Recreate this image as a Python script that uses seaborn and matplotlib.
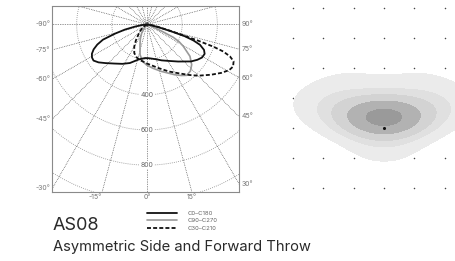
import numpy as np
import pandas as pd
import matplotlib
matplotlib.use("Agg")
import matplotlib.pyplot as plt
from matplotlib.lines import Line2D
from matplotlib.colors import ListedColormap
import seaborn as sns
from seaborn._statistics import KDE

sns.set_theme(style="white")
plt.rcParams['font.family'] = ['Inter', 'DejaVu Sans']

# ---------------- data: polar intensity curves (angle from nadir, cd) ----------------
c0_angles = [-90, -84, -80, -77, -74, -71, -68, -65, -62, -59, -56, -52, -47, -40, -32, -24, -14, -8, -3,
             3, 8, 15, 22, 30, 40, 50, 55, 59, 63, 66, 69, 71, 72.7, 74, 76, 80, 90]
c0_values = [0, 30, 70, 130, 190, 265, 305, 335, 355, 365, 367, 350, 322, 290, 264, 240, 206, 196, 191,
             192, 196, 205, 220, 239, 275, 327, 350, 365, 368, 355, 323, 280, 226, 150, 80, 30, 0]

c90_angles = [-90, -60, -45, -32, -25, -19, -13, -7, 0, 8, 17, 29, 34, 38, 43, 48, 53.5, 59, 62, 64,
              65.3, 66.5, 70, 90]
c90_values = [0, 5, 15, 57, 90, 122, 176, 211, 232, 252, 279, 327, 350, 367, 362, 342, 304, 241, 205,
              165, 100, 60, 20, 0]

c30_angles = [-90, -70, -55, -45, -35, -30, -24, -18, -11, -5, 0, 14.6, 25, 32.8, 40, 45, 52, 57, 61, 64,
              67, 69, 70.5, 71.5, 72.5, 73.5, 75, 78, 82, 90]
c30_values = [0, 5, 30, 60, 110, 145, 178, 195, 207, 213, 222, 256, 295, 330, 375, 412, 464, 505, 535,
              545, 535, 505, 460, 400, 300, 200, 130, 60, 25, 0]

series_names = ["C0\u2013C180", "C90\u2013C270", "C30\u2013C210"]

# polar grid
grid_radii = [200, 400, 600, 800, 1000, 1200]
grid_angle_step = 15
circle_labels = [400, 600, 800]
side_labels = [90, 75, 60, 45, 30]
bottom_labels = [-15, 0, 15]

# ---------------- data: isolux diagram ----------------
dot_cols = [-3, -2, -1, 0, 1, 2]
dot_rows = [4, 3, 2, 1, 0, -1, -2]
iso_x = [0.0, -1.4, 1.4, -2.05, 2.05, -1.1, 1.1, 0.0]
iso_y = [0.33, 0.5, 0.5, 0.95, 0.95, 1.5, 1.5, -0.75]
iso_w = [10, 1.5, 1.5, 0.8, 0.8, 0.8, 0.8, 1.0]
iso_peak_fracs = [0.075, 0.12, 0.2, 0.33, 0.55, 0.86]
iso_colors = ['#ebebeb', '#e0e0e0', '#d3d3d3', '#c4c4c4', '#b2b2b2', '#9a9a9a']

# ---------------- figure ----------------
W, H = 456, 261
fig = plt.figure(figsize=(W / 100, H / 100), dpi=100)
fig.patch.set_facecolor('white')

# left polar-style diagram in a square box
ax = fig.add_axes([52.5 / W, 1 - 191.5 / H, 186.5 / W, 185.5 / H])
ax.set_facecolor('none')
XMIN, XMAX, YTOP, YBOT = -537.5, 523.3, -105.2, 950.0
ax.set_xlim(XMIN, XMAX)
ax.set_ylim(YBOT, YTOP)
ax.set_xticks([])
ax.set_yticks([])
for s in ax.spines.values():
    s.set_visible(True)
    s.set_color('#8a8a8a')
    s.set_linewidth(0.8)
    s.set_linestyle((0, (1, 1)))

dot = (0, (1, 1.5))
t = np.radians(np.linspace(0, 360, 361))
for r in grid_radii:
    ax.plot(r * np.sin(t), r * np.cos(t), color='#8a8a8a', lw=0.6, ls=dot, zorder=1)
for a in range(0, 360, grid_angle_step):
    ar = np.radians(a)
    ax.plot([0, 2000 * np.sin(ar)], [0, 2000 * np.cos(ar)], color='#333333', lw=0.5, ls=dot, zorder=1)

for v in circle_labels:
    ax.text(0, v, str(v), ha='center', va='center', fontsize=5, color='#666666', zorder=3,
            bbox=dict(boxstyle='square,pad=0.15', fc='white', ec='none'))


def curve_frame(angles, values):
    a = np.radians(np.asarray(angles, dtype=float))
    v = np.asarray(values, dtype=float)
    return pd.DataFrame({'x': v * np.sin(a), 'y': v * np.cos(a)})


sns.lineplot(data=curve_frame(c90_angles, c90_values), x='x', y='y', sort=False, estimator=None,
             color='#9a9a9a', lw=1.2, ax=ax, zorder=4)
sns.lineplot(data=curve_frame(c30_angles, c30_values), x='x', y='y', sort=False, estimator=None,
             color='#111111', lw=1.3, linestyle=(0, (2.2, 1.2)), ax=ax, zorder=5)
sns.lineplot(data=curve_frame(c0_angles, c0_values), x='x', y='y', sort=False, estimator=None,
             color='#111111', lw=1.3, ax=ax, zorder=6)
ax.set_xlabel('')
ax.set_ylabel('')
ax.set_xlim(XMIN, XMAX)
ax.set_ylim(YBOT, YTOP)

lab_kw = dict(fontsize=5, color='#777777')
for a in side_labels:
    yl = -XMIN / np.tan(np.radians(a)) if a != 90 else 0.0
    yr = XMAX / np.tan(np.radians(a)) if a != 90 else 0.0
    ax.text(-0.012, yl, f"-{a}\u00b0", transform=ax.get_yaxis_transform(), ha='right', va='center', **lab_kw)
    ax.text(1.012, yr, f"{a}\u00b0", transform=ax.get_yaxis_transform(), ha='left', va='center', **lab_kw)
for a in bottom_labels:
    xb = YBOT * np.tan(np.radians(a))
    ax.text(xb, -0.015, f"{a}\u00b0", transform=ax.get_xaxis_transform(),
            ha='right' if a < 0 else 'center', va='top', **lab_kw)

# legend
handles = [Line2D([], [], color='#111111', lw=1.3),
           Line2D([], [], color='#9a9a9a', lw=1.2),
           Line2D([], [], color='#111111', lw=1.3, linestyle=(0, (2.2, 1.2)))]
fig.legend(handles, series_names, loc='upper left', bbox_to_anchor=(147 / W, 1 - 210.5 / H),
           frameon=False, fontsize=4.3, labelcolor='#666666', handlelength=5.0, handletextpad=1.85,
           labelspacing=0.42, borderpad=0, borderaxespad=0)

fig.text(53 / W, 1 - 230 / H, "AS08", fontsize=13, color='#2a2a2a', va='baseline')
fig.text(53 / W, 1 - 251.5 / H, "Asymmetric Side and Forward Throw", fontsize=10.6, color='#2a2a2a',
         va='baseline')

# right isolux diagram
ax2 = fig.add_axes([280 / W, 1 - 200 / H, 176 / W, 200 / H])
ax2.set_facecolor('none')
X2 = (-3.415, 2.365)
Y2 = (-2.41, 4.257)
gx, gy = np.meshgrid(dot_cols, dot_rows)
dots = pd.DataFrame({'x': gx.ravel(), 'y': gy.ravel()})
sns.scatterplot(data=dots, x='x', y='y', s=1.2, color='#444444', linewidth=0, ax=ax2, zorder=1)

# convert "fraction of peak" iso-levels into seaborn's iso-proportion levels
bw = 0.8
kde = KDE(bw_method=bw, gridsize=200, clip=(X2, Y2))
dens, _ = kde(np.asarray(iso_x, float), np.asarray(iso_y, float), weights=np.asarray(iso_w, float))
total = dens.sum()
props = []
for f in iso_peak_fracs:
    lev = f * dens.max()
    props.append(1 - dens[dens >= lev].sum() / total)
props = sorted(props) + [1.0]

src = pd.DataFrame({'x': iso_x, 'y': iso_y, 'w': iso_w})
sns.kdeplot(data=src, x='x', y='y', weights='w', fill=True, levels=props,
            cmap=ListedColormap(iso_colors), bw_method=bw, clip=(X2, Y2), gridsize=200, ax=ax2, zorder=2)
sns.scatterplot(x=[0], y=[0], s=5, color='#111111', linewidth=0, ax=ax2, zorder=3)
ax2.set_xlim(*X2)
ax2.set_ylim(*Y2)
ax2.set_axis_off()

fig.savefig("out.png", dpi=100, facecolor='white')
